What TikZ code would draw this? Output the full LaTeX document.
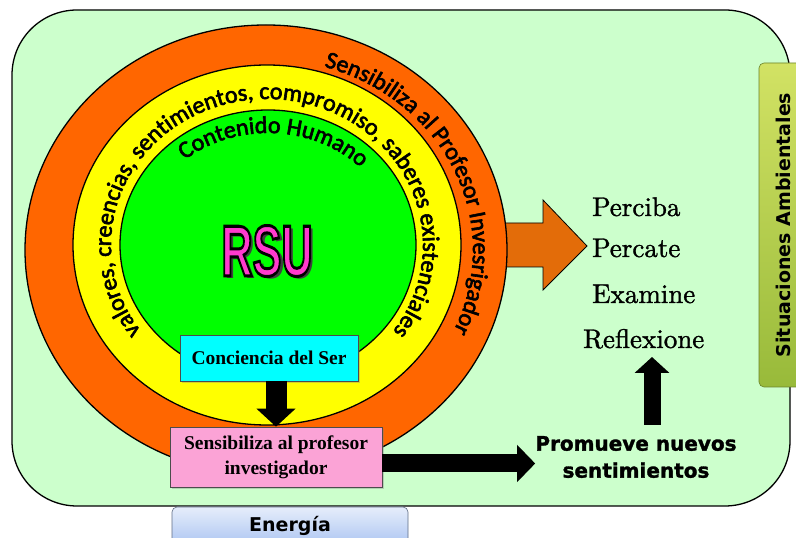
\documentclass[tikz,border=0pt]{standalone}
\usepackage{fontspec}
\usepackage{graphicx}
\usetikzlibrary{decorations.text,arrows.meta,shadows,calc}
\newfontfamily\carl{Carlito}[RawFeature={embolden=2.5}]
\newfontfamily\dvs{DejaVu Sans}
\newfontfamily\dvsheavy{DejaVu Sans}[BoldFeatures={RawFeature={embolden=1.5}}]
\newfontfamily\lserif{Liberation Serif}
\newfontfamily\lsans{Liberation Sans}
\newfontfamily\pal{lmroman10-regular}[Extension=.otf, RawFeature={embolden=1.2}]
\definecolor{bggreen}{HTML}{CCFFCC}
\definecolor{ringA}{HTML}{FF6600}
\definecolor{ringB}{HTML}{FFFF00}
\definecolor{ringC}{HTML}{00FF00}
\definecolor{boxcyan}{HTML}{00FFFF}
\definecolor{boxpink}{HTML}{FBA3D6}
\definecolor{arroworange}{HTML}{E36C09}
\definecolor{sideA}{HTML}{D2E264}
\definecolor{sideB}{HTML}{98BA3A}
\definecolor{enerA}{HTML}{E6EDFB}
\definecolor{enerB}{HTML}{ADC6F2}
\definecolor{rsupink}{HTML}{FF3ACD}
\newcommand\ringtxt[7]{%
  \path[decorate,decoration={text along path,text align=center,text color=black,
     text={|\carl\fontsize{24}{24}\selectfont|#7}}]
     ($(#1,#2)+(#5:#3pt and #4pt)$) arc[start angle=#5,end angle=#6,x radius=#3pt,y radius=#4pt];
}
\newcommand\rsuplain{\lsans\bfseries\fontsize{72}{72}\selectfont\scalebox{0.6}[1]{RSU}}
\newcommand\rsuoutlined{\lsans\bfseries\fontsize{72}{72}\selectfont\scalebox{0.6}[1]{\special{pdf:literal direct 2 Tr 3 w 0 0 0 RG}RSU\special{pdf:literal direct 0 Tr 0.4 w}}}
\begin{document}
\begin{tikzpicture}[x=1pt,y=1pt,
  ringline/.style={draw=black, line width=1.3pt},
  boxstyle/.style={draw=black!70, line width=0.6pt, inner sep=0,
     font=\lserif\bfseries\fontsize{19.5}{25}\selectfont, align=center,
     drop shadow={shadow xshift=2pt, shadow yshift=-2pt, opacity=0.35}},
  wordstyle/.style={anchor=base west, inner sep=0, font=\pal\fontsize{27}{27}\selectfont},
  boldsans/.style={inner sep=0, font=\dvs\bfseries\fontsize{19}{19}\selectfont}
]
\useasboundingbox (0,0) rectangle (796,538);
% frame
\draw[line width=1.3pt, fill=bggreen, rounded corners=65pt] (12,32) rectangle (790,528);
% energia
\node[draw=enerB!55!black, line width=0.6pt, rounded corners=5pt, top color=enerA, bottom color=enerB,
  minimum width=236pt, minimum height=38pt, inner sep=0, font=\dvs\bfseries\fontsize{19}{19}\selectfont] (ener) at (290,12) {Energía};
% side bar
\node[draw=sideB!70!black, line width=0.6pt, rounded corners=5pt, top color=sideA, bottom color=sideB,
  minimum width=50pt, minimum height=324pt, inner sep=0] (side) at (784,313) {};
\node[boldsans, rotate=90, anchor=base] (sidetext) at (790,313) {Situaciones Ambientales};
% orange block arrow
\draw[fill=arroworange, line width=0.8pt] (480,315) -- (543,315) -- (543,338) -- (587,292)
  -- (543,248) -- (543,271) -- (480,271) -- cycle;
% rings
\draw[ringline, fill=ringA] (266,288) ellipse[x radius=241pt, y radius=225pt];
\draw[ringline, fill=ringB] (267,293) ellipse[x radius=194pt, y radius=180pt];
\draw[ringline, fill=ringC] (268,293) ellipse[x radius=148pt, y radius=135pt];
\ringtxt{266}{288}{207}{191}{84}{-36}{Sensibiliza al Profesor Invesrigador}
\ringtxt{267}{293}{156}{146}{232}{-52}{valores, creencias, sentimientos, compromiso, saberes existenciales}
\ringtxt{268}{293}{128}{112}{147}{27}{Contenido Humano}
% RSU
\node[inner sep=0, text=black!75] (rsushadow) at (270.5,284) {\rsuplain};
\node[inner sep=0, text=rsupink] (rsu) at (267,287) {\rsuoutlined};
% boxes
\node[boxstyle, fill=boxcyan, minimum width=178pt, minimum height=46pt] (cyan) at (269,180) {Conciencia del Ser};
\node[boxstyle, fill=boxpink, minimum width=212pt, minimum height=60pt] (pink) at (276,81) {Sensibiliza al profesor\\investigador};
% words
\node[wordstyle] (perciba) at (592,322) {Perciba};
\node[wordstyle] (percate) at (592,281) {Percate};
\node[wordstyle] (examine) at (592,235) {Examine};
\node[wordstyle] (refl) at (583,190) {Reflexione};
\node[inner sep=0, align=center, font=\dvsheavy\bfseries\fontsize{20}{27}\selectfont] (prom) at (636,81) {Promueve nuevos\\sentimientos};
% black arrows
\coordinate (upS) at (652,113);
\coordinate (upE) at (652,181);
\draw[line width=21pt, -{Triangle[length=18pt,width=38pt]}] (pink.north |- cyan.south) -- (pink.north);
\draw[line width=18pt, -{Triangle[length=18pt,width=36pt]}] ([yshift=-6.5pt]pink.east) -- ([yshift=-6.5pt]pink.east -| prom.west);
\draw[line width=17pt, -{Triangle[length=16pt,width=34pt]}] (upS) -- (upE);
\end{tikzpicture}
\end{document}
